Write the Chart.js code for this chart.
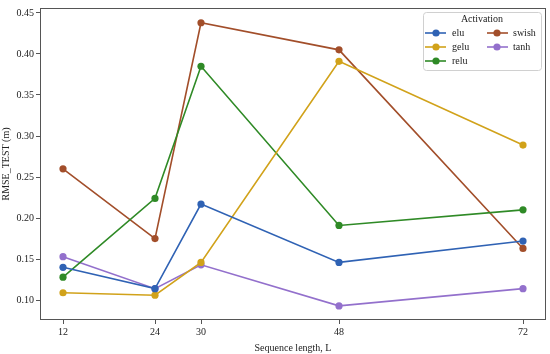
<!DOCTYPE html>
<html>
<head>
<meta charset="utf-8">
<script src="https://cdn.jsdelivr.net/npm/chart.js@4/dist/chart.umd.min.js"></script>
<style>
  html, body { margin: 0; padding: 0; background: #fff; }
  #wrap { width: 550px; height: 354px; }
</style>
</head>
<body>
<div id="wrap"><canvas id="rmseChart"></canvas></div>
<script>
// sequence lengths (x) and RMSE per activation
const seqLengths = [12, 24, 30, 48, 72];
const activations = ['elu', 'gelu', 'relu', 'swish', 'tanh'];
const eluVals   = [0.140, 0.114, 0.217, 0.146, 0.172];
const geluVals  = [0.109, 0.106, 0.146, 0.391, 0.289];
const reluVals  = [0.128, 0.224, 0.385, 0.191, 0.210];
const swishVals = [0.260, 0.175, 0.438, 0.405, 0.163];
const tanhVals  = [0.153, 0.114, 0.143, 0.093, 0.114];
const yTicks = [0.10, 0.15, 0.20, 0.25, 0.30, 0.35, 0.40, 0.45];

const colors = {
  elu: '#2f62b4',
  gelu: '#d1a21a',
  relu: '#2f8a26',
  swish: '#a24e2a',
  tanh: '#9370cc'
};
const seriesVals = { elu: eluVals, gelu: geluVals, relu: reluVals, swish: swishVals, tanh: tanhVals };

const FONT = '"Liberation Serif", "DejaVu Serif", serif';

const datasets = activations.map(name => ({
  label: name,
  data: seqLengths.map((x, i) => ({ x: x, y: seriesVals[name][i] })),
  borderColor: colors[name],
  backgroundColor: colors[name],
  pointBackgroundColor: colors[name],
  pointBorderColor: colors[name],
  borderWidth: 1.6,
  pointRadius: 3.6,
  pointBorderWidth: 0,
  tension: 0
}));

// legend drawn inside the plot, 2 columns like matplotlib
const legendBox = {
  id: 'legendBox',
  afterDraw(chart) {
    const ctx = chart.ctx;
    ctx.save();
    const x0 = 423, y0 = 12, w = 118, h = 58;
    ctx.fillStyle = 'rgba(255,255,255,0.85)';
    ctx.strokeStyle = '#d0d0d0';
    ctx.lineWidth = 1;
    ctx.beginPath();
    ctx.roundRect(x0 + 0.5, y0 + 0.5, w, h, 3);
    ctx.fill();
    ctx.stroke();

    ctx.fillStyle = '#222';
    ctx.font = '10px ' + FONT;
    ctx.textAlign = 'center';
    ctx.textBaseline = 'middle';
    ctx.fillText('Activation', 482, 19.5);

    const cols = [
      { lx: 425, mx: 436, tx: 452, items: ['elu', 'gelu', 'relu'] },
      { lx: 487, mx: 497, tx: 513, items: ['swish', 'tanh'] }
    ];
    const rowsY = [33, 47, 61];
    ctx.textAlign = 'left';
    cols.forEach(col => {
      col.items.forEach((name, r) => {
        const y = rowsY[r];
        ctx.strokeStyle = colors[name];
        ctx.lineWidth = 1.6;
        ctx.beginPath();
        ctx.moveTo(col.lx, y);
        ctx.lineTo(col.lx + 21, y);
        ctx.stroke();
        ctx.fillStyle = colors[name];
        ctx.beginPath();
        ctx.arc(col.mx, y, 3.6, 0, Math.PI * 2);
        ctx.fill();
        ctx.fillStyle = '#222';
        ctx.fillText(name, col.tx, y);
      });
    });
    ctx.restore();
  }
};

// frame around the plot area (all four spines)
const frame = {
  id: 'frame',
  afterDatasetsDraw(chart) {
    const a = chart.chartArea;
    const ctx = chart.ctx;
    ctx.save();
    ctx.strokeStyle = '#555';
    ctx.lineWidth = 1;
    ctx.strokeRect(a.left + 0.5, a.top + 0.5, a.right - a.left - 1, a.bottom - a.top - 1);
    ctx.restore();
  }
};

const ctx = document.getElementById('rmseChart').getContext('2d');
const rmseChart = new Chart(ctx, {
  type: 'line',
  data: { datasets },
  options: {
    responsive: true,
    maintainAspectRatio: false,
    animation: false,
    layout: { padding: { top: 7, right: 4, left: 0, bottom: 0 } },
    plugins: {
      legend: { display: false },
      tooltip: { enabled: false }
    },
    scales: {
      x: {
        type: 'linear',
        min: 9,
        max: 75,
        afterBuildTicks: scale => { scale.ticks = seqLengths.map(v => ({ value: v })); },
        afterFit: scale => { scale.height = 34; },
        grid: { display: true, drawOnChartArea: false, drawTicks: true, tickLength: 4, color: '#555' },
        border: { display: false },
        ticks: {
          color: '#222',
          font: { family: FONT, size: 10 },
          padding: 2,
          maxRotation: 0,
          callback: v => String(v)
        },
        title: {
          display: true,
          text: 'Sequence length, L',
          color: '#222',
          font: { family: FONT, size: 10 },
          padding: { top: 0, bottom: 0 }
        }
      },
      y: {
        min: 0.0758,
        max: 0.456,
        afterBuildTicks: scale => { scale.ticks = yTicks.map(v => ({ value: v })); },
        afterFit: scale => { scale.width = 40; },
        grid: { display: true, drawOnChartArea: false, drawTicks: true, tickLength: 4, color: '#555' },
        border: { display: false },
        ticks: {
          color: '#222',
          font: { family: FONT, size: 10 },
          padding: 2,
          callback: v => v.toFixed(2)
        },
        title: {
          display: true,
          text: 'RMSE_TEST (m)',
          color: '#222',
          font: { family: FONT, size: 10 },
          padding: { top: 0, bottom: 1 }
        }
      }
    }
  },
  plugins: [frame, legendBox]
});
</script>
</body>
</html>
